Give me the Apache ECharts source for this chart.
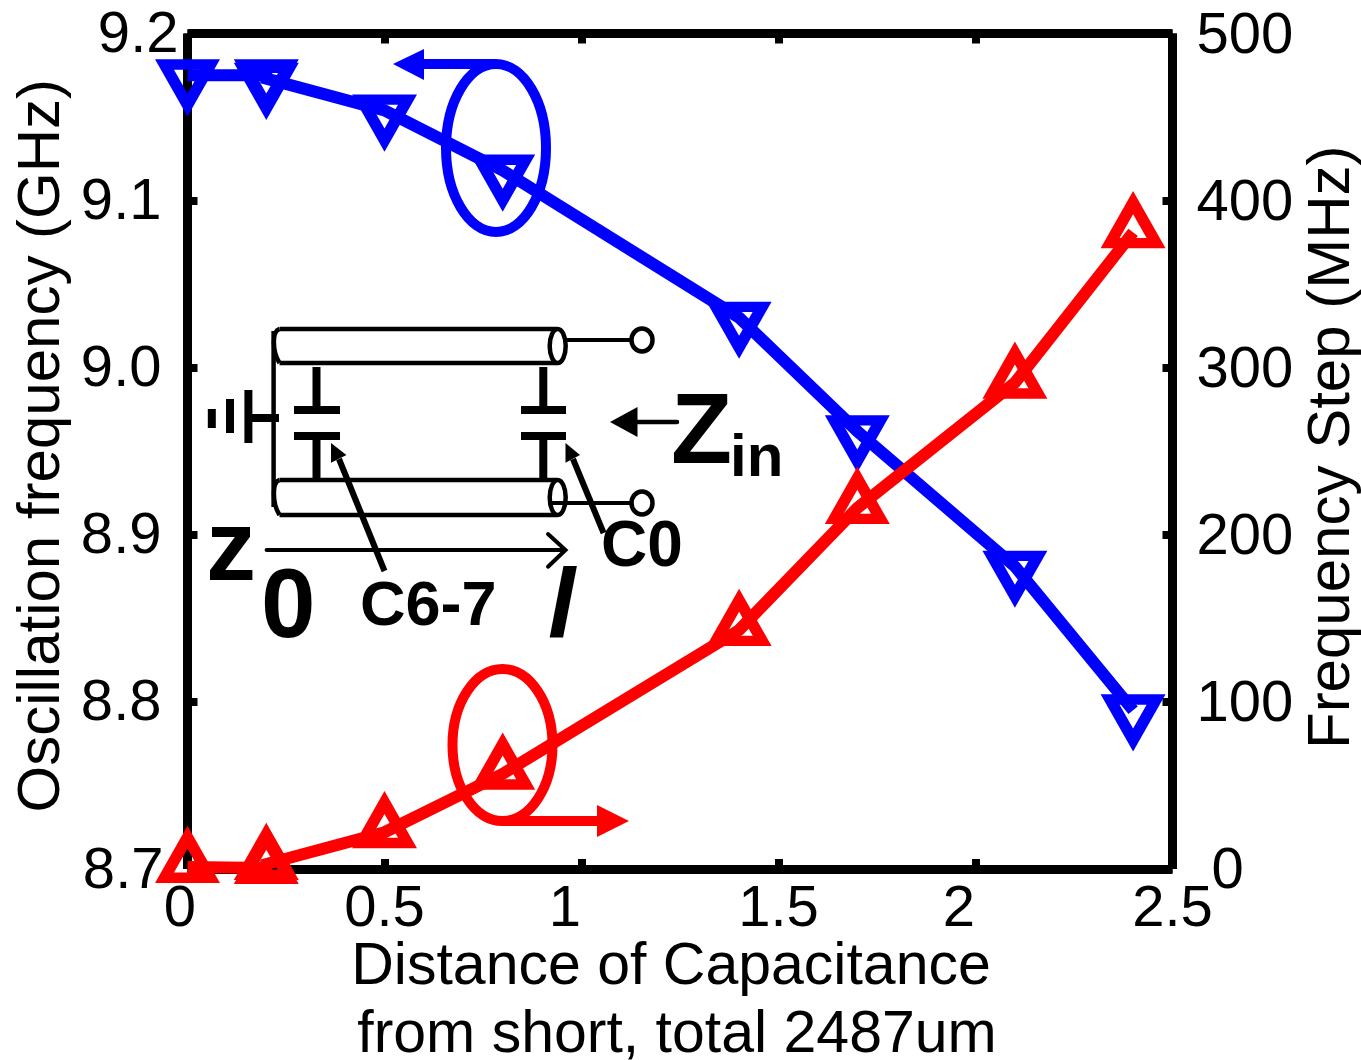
<!DOCTYPE html>
<html><head><meta charset="utf-8">
<style>html,body{margin:0;padding:0;background:#fff}#c{width:1361px;height:1060px}</style>
<script src="https://cdn.jsdelivr.net/npm/echarts@6/dist/echarts.min.js"></script>
</head><body><div id="c"></div>
<script>
const distance = [0, 0.2, 0.2, 0.5, 0.8, 1.4, 1.7, 2.1, 2.4];
const oscillationGHz = [9.175, 9.175, 9.173, 9.154, 9.118, 9.030, 8.962, 8.881, 8.795];
const frequencyStepMHz = [1.2, 0.6, 3.0, 22, 57, 143, 216, 291, 381];
const xTickLabels = ['0', '0.5', '1', '1.5', '2', '2.5'];
const leftTickLabels = ['8.7', '8.8', '8.9', '9.0', '9.1', '9.2'];
const rightTickLabels = ['0', '100', '200', '300', '400', '500'];

const FONT = '"Liberation Sans", Arial, sans-serif';
const BLUE = '#0000ff', RED = '#ff0000', INK = '#000';
const chart = echarts.init(document.getElementById('c'), null, {renderer: 'canvas'});

function richLabels(labels, pads) {
  const rich = {};
  labels.forEach((t, i) => {
    rich['r' + i] = {fontFamily: FONT, fontSize: 58, color: INK, padding: pads[i]};
  });
  return {rich, formatter: (v, i) => '{r' + i + '|' + labels[i] + '}'};
}
const xl = richLabels(xTickLabels, [[0,15,0,0],[0,0,0,0],[0,33,0,0],[0,0,0,0],[0,33,0,0],[0,0,0,0]]);
const yl = richLabels(leftTickLabels, [[5,15,0,0],[5,17,0,0],[5,17,0,0],[5,17,0,0],[5,17,0,0],[5,0,0,0]]);
const rl = richLabels(rightTickLabels, [[6,0,0,15],[6,0,0,0],[6,0,0,0],[6,0,0,0],[6,0,0,0],[6,0,0,0]]);

const axisBase = {
  axisLine: {onZero: false, lineStyle: {color: INK, width: 9, cap: 'butt'}},
  axisTick: {inside: true, length: 10, lineStyle: {color: INK, width: 8}},
  splitLine: {show: false}
};
const nameStyle = {fontFamily: FONT, fontSize: 60, color: INK};

// ---- annotation helpers (inset diagram, callouts) ----
const g = [];
const line = (pts, color, w, extra) => g.push({type: 'polyline', silent: true, z: 10, shape: {points: pts},
  style: Object.assign({stroke: color, lineWidth: w, fill: 'none', lineCap: 'butt', lineJoin: 'miter'}, extra || {})});
const poly = (pts, color) => g.push({type: 'polygon', silent: true, z: 10, shape: {points: pts}, style: {fill: color}});
const ell = (cx, cy, rx, ry, color, w, fill) => g.push({type: 'ellipse', silent: true, z: 10, shape: {cx, cy, rx, ry},
  style: {stroke: color, lineWidth: w, fill: fill || 'none'}});
const txt = (s, x, y, font) => g.push({type: 'text', silent: true, z: 11, x, y,
  style: {text: s, font: font + ' ' + FONT, fill: INK, align: 'left', verticalAlign: 'middle'}});

// callouts
ell(496, 148, 50, 84, BLUE, 10);
line([[496, 64], [420, 64]], BLUE, 10);
poly([[393, 64], [424, 49], [424, 80]], BLUE);
ell(502.5, 745, 50, 76, RED, 10);
line([[502, 821], [600, 821]], RED, 10);
poly([[629, 821], [597, 805], [597, 837]], RED);

// tubes
[[329, 363], [480, 515]].forEach(([a, b]) => {
  line([[279.5, a], [557, a]], INK, 4.5);
  line([[279.5, b], [557, b]], INK, 4.5);
  ell(557.7, (a + b) / 2, 8, (b - a) / 2, INK, 4.5, '#fff');
  g.push({type: 'bezierCurve', silent: true, z: 10,
    shape: {x1: 279.5, y1: a, cpx1: 272, cpy1: a + 2, cpx2: 272, cpy2: b - 12, x2: 279.5, y2: b},
    style: {stroke: INK, lineWidth: 4.5, fill: 'none'}});
});
line([[273.6, 331], [273.6, 507]], INK, 4.5);
// terminals
line([[566, 340], [632, 340]], INK, 4);
ell(642, 340, 10.5, 11.5, INK, 4.5, '#fff');
line([[550, 503], [632, 503]], INK, 4);
ell(642, 503, 10.5, 11.5, INK, 4.5, '#fff');
// capacitors
[[316.5, 294, 340], [543.3, 521, 566]].forEach(([c, l, r]) => {
  line([[c, 367], [c, 410]], INK, 8);
  line([[l, 410], [r, 410]], INK, 8);
  line([[l, 436], [r, 436]], INK, 8);
  line([[c, 436], [c, 480]], INK, 8);
});
// ground
line([[252, 418], [279, 418]], INK, 8);
line([[248.4, 390], [248.4, 443]], INK, 8);
line([[230, 399], [230, 433]], INK, 8);
line([[211.8, 409], [211.8, 428]], INK, 8);
// Zin arrow
line([[630, 422], [677, 422]], INK, 4.5, {lineCap: 'round'});
poly([[610, 422], [637.5, 407], [637.5, 437]], INK);
// z axis arrow
line([[266.6, 550], [563, 550]], INK, 4, {lineCap: 'round'});
line([[548, 534], [565.5, 550], [548, 566.7]], INK, 4, {lineCap: 'round'});
// C arrows
line([[384.5, 571], [339, 459]], INK, 6);
poly([[331, 443], [331, 462.7], [346.4, 455]], INK);
line([[603.6, 533], [573, 459]], INK, 6);
poly([[565.5, 443], [565.5, 462.7], [580, 455]], INK);
// texts
txt('Z', 671, 435, 'bold 100px');
txt('in', 730, 459, 'bold 60px');
txt('z', 206, 552, 'bold 100px');
txt('0', 261, 610, 'bold 98px');
txt('C6-7', 360, 608, 'bold 63px');
txt('C0', 601, 548, 'bold 64px');
txt('l', 548, 610, 'italic bold 98px');

const mk = (values, axis, color, rot, off) => ({
  type: 'line', yAxisIndex: axis, clip: false, showAllSymbol: true,
  data: distance.map((x, i) => [x, values[i]]),
  symbol: 'triangle', symbolSize: [46, 40.5], symbolRotate: rot, symbolOffset: [0, off],
  lineStyle: {color, width: 12, cap: 'butt', join: 'miter'},
  itemStyle: {color: 'transparent', borderColor: color, borderWidth: 11, borderJoin: 'miter'},
  emphasis: {disabled: true}
});

chart.setOption({
  animation: false,
  backgroundColor: '#fff',
  grid: {left: 187.5, right: 188.5, top: 33.5, bottom: 191, containLabel: false, outerBoundsMode: 'none'},
  xAxis: [
    Object.assign({}, axisBase, {type: 'value', position: 'bottom', min: 0, max: 2.5, interval: 0.5,
      axisLabel: Object.assign({margin: 12, hideOverlap: false, showMinLabel: true, showMaxLabel: true}, xl),
      name: '{a|Distance of Capacitance}\n{b|from short, total 2487um}',
      nameLocation: 'middle', nameGap: 65, nameMoveOverlap: false,
      nameTextStyle: {rich: {
        a: Object.assign({}, nameStyle, {fontSize: 59, lineHeight: 68, padding: [0, 18, 0, 0]}),
        b: Object.assign({}, nameStyle, {fontSize: 59, lineHeight: 68, padding: [0, 6, 0, 0]})
      }}}),
    Object.assign({}, axisBase, {type: 'value', position: 'top', min: 0, max: 2.5, interval: 0.5, axisLabel: {show: false}})
  ],
  yAxis: [
    Object.assign({}, axisBase, {type: 'value', position: 'left', min: 8.7, max: 9.2, interval: 0.1,
      axisLabel: Object.assign({margin: 9, showMinLabel: true, showMaxLabel: true}, yl),
      name: 'Oscillation frequency (GHz)', nameLocation: 'middle', nameRotate: 90, nameGap: 115, nameMoveOverlap: false,
      nameTextStyle: Object.assign({}, nameStyle, {padding: [0, 0, 0, 11]})}),
    Object.assign({}, axisBase, {type: 'value', position: 'right', min: 0, max: 500, interval: 100,
      axisLabel: Object.assign({margin: 24, showMinLabel: true, showMaxLabel: true}, rl),
      name: 'Frequency Step (MHz)', nameLocation: 'middle', nameRotate: 90, nameGap: 130, nameMoveOverlap: false,
      nameTextStyle: Object.assign({}, nameStyle, {padding: [0, 0, 0, 8]})})
  ],
  series: [
    mk(oscillationGHz, 0, BLUE, 180, 9.5),
    mk(frequencyStepMHz, 1, RED, 0, -9.5)
  ],
  graphic: g
});
</script></body></html>
